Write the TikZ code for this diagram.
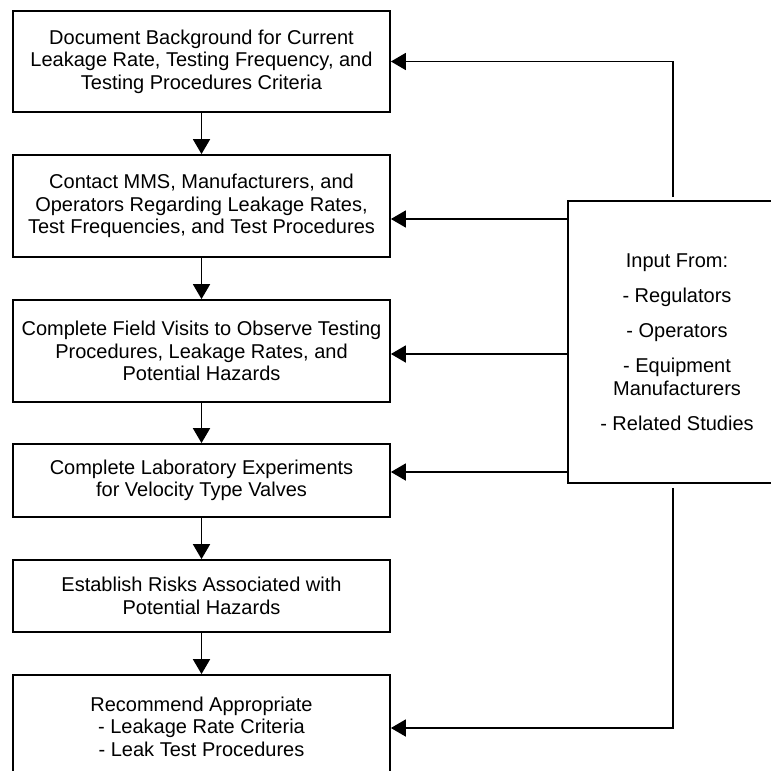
\documentclass[tikz,border=0pt]{standalone}
\usepackage{fontspec}
\setmainfont{Liberation Sans}
\usetikzlibrary{arrows.meta}

\tikzset{
  stepbox/.style={draw, line width=0.9pt, align=center, minimum width=188.5pt,
    inner sep=0pt, font=\fontsize{10}{11.25}\selectfont},
  arr/.style={line width=0.9pt, -{Triangle[length=7.5pt,width=8.5pt]}}
}

\begin{document}
\begin{tikzpicture}[x=0.5pt, y=-0.5pt]
        \clip (0,0) rectangle (771,771);
        \fill[white] (0,0) rectangle (771,771);
        % left column of steps
        \node[stepbox, minimum height=50.5pt] (b1) at (201.5,61.5) {Document Background for Current\\Leakage Rate, Testing Frequency, and\\Testing Procedures Criteria};
        \node[stepbox, minimum height=51pt] (b2) at (201.5,206) {Contact MMS, Manufacturers, and\\Operators Regarding Leakage Rates,\\Test Frequencies, and Test Procedures};
        \node[stepbox, minimum height=51pt] (b3) at (201.5,351) {Complete Field Visits to Observe Testing\\Procedures, Leakage Rates, and\\Potential Hazards};
        \node[stepbox, minimum height=36.5pt] (b4) at (201.5,480.5) {Complete Laboratory Experiments\\for Velocity Type Valves};
        \node[stepbox, minimum height=36pt] (b5) at (201.5,596) {Establish Risks Associated with\\Potential Hazards};
        \node[stepbox, minimum height=51.5pt] (b6) at (201.5,726.5) {Recommend Appropriate\\- Leakage Rate Criteria\\- Leak Test Procedures};
        % input box on the right
        \node[stepbox, minimum width=109pt, minimum height=141pt] (inp) at (677,342) {Input From:\\[6.25pt]- Regulators\\[6.25pt]- Operators\\[6.25pt]- Equipment\\Manufacturers\\[6.25pt]- Related Studies};
        \draw[arr] (b1) -- (b2);
        \draw[arr] (b2) -- (b3);
        \draw[arr] (b3) -- (b4);
        \draw[arr] (b4) -- (b5);
        \draw[arr] (b5) -- (b6);
        \draw[arr] ([xshift=-2pt,yshift=1.5pt]inp.north) |- (b1.east);
        \draw[arr] ([yshift=-6.5pt]b2.east -| inp.west) -- ([yshift=-6.5pt]b2.east);
        \draw[arr] ([yshift=-1.5pt]b3.east -| inp.west) -- ([yshift=-1.5pt]b3.east);
        \draw[arr] ([yshift=4.25pt]b4.east -| inp.west) -- ([yshift=4.25pt]b4.east);
        \draw[arr] ([xshift=-2pt,yshift=-2pt]inp.south) |- ([yshift=-0.75pt]b6.east);
    \end{tikzpicture}
\end{document}
